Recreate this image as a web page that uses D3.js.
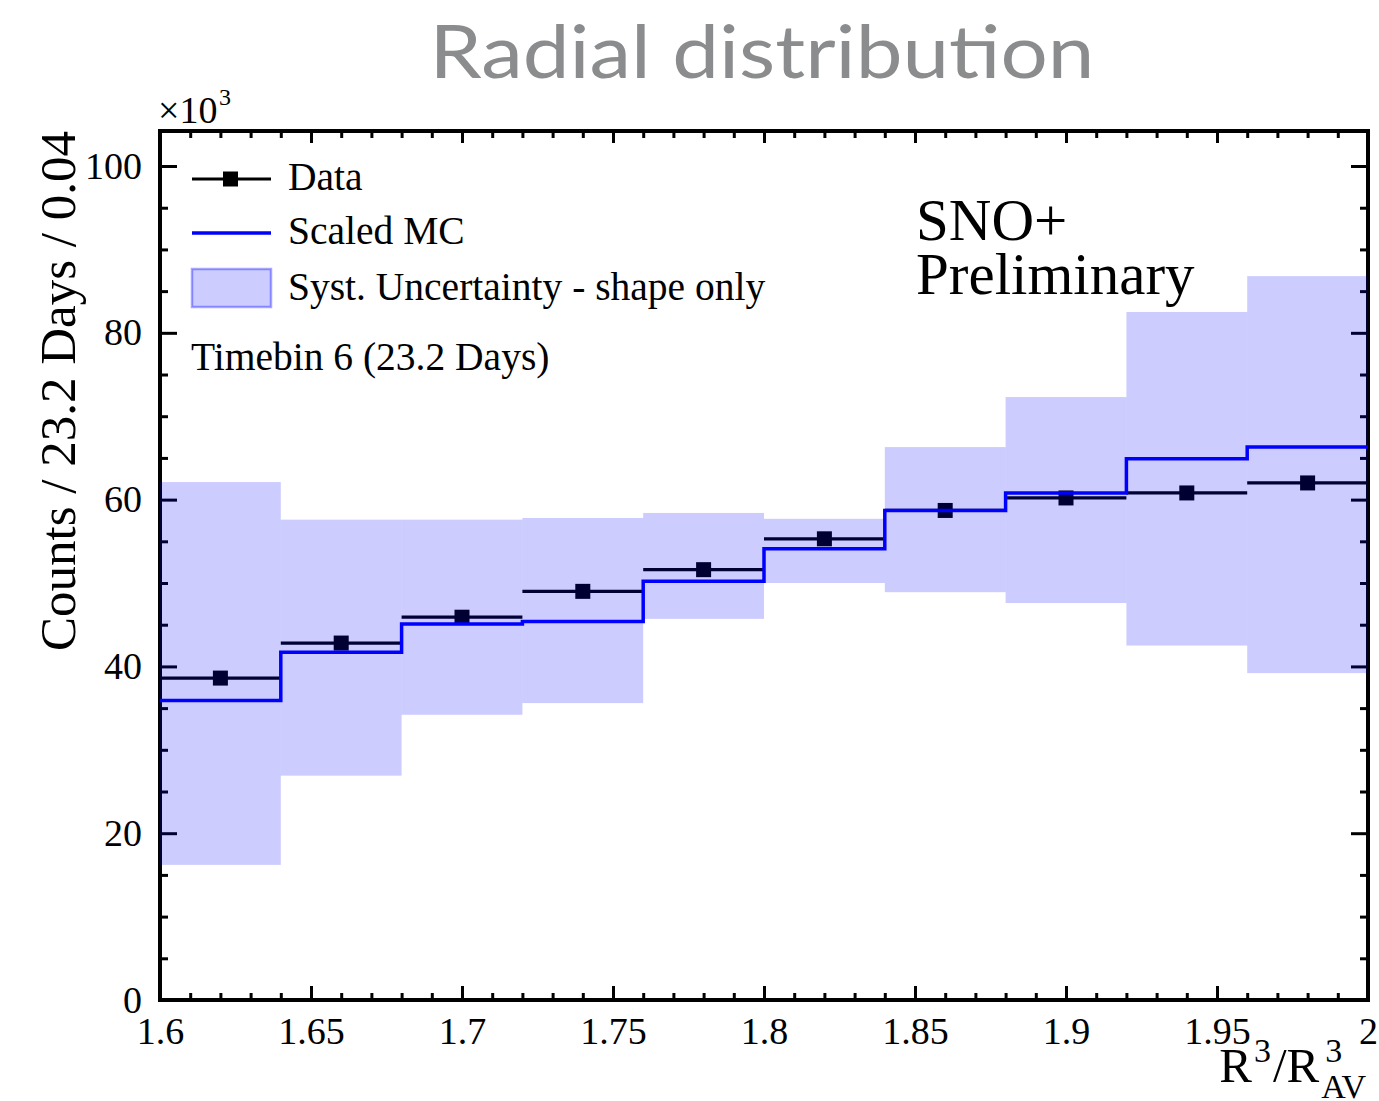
<!DOCTYPE html>
<html>
<head>
<meta charset="utf-8">
<script src="https://cdn.jsdelivr.net/npm/d3@7"></script>
<style>
  html, body { margin: 0; padding: 0; background: #fff; }
  svg { display: block; }
</style>
</head>
<body>
<svg id="chart" width="1379" height="1101"></svg>
<script>
// ---------------- data ----------------
const binEdges   = [1.60, 1.64, 1.68, 1.72, 1.76, 1.80, 1.84, 1.88, 1.92, 1.96, 2.00];
const dataCounts = [38.6, 42.8, 45.9, 49.0, 51.6, 55.3, 58.7, 60.2, 60.8, 62.0];
const mcCounts   = [35.9, 41.7, 45.1, 45.4, 50.2, 54.1, 58.7, 60.8, 64.9, 66.3];
const systHigh   = [62.1, 57.6, 57.6, 57.8, 58.4, 57.7, 66.3, 72.3, 82.5, 86.8];
const systLow    = [16.2, 26.9, 34.2, 35.6, 45.7, 50.0, 48.9, 47.6, 42.5, 39.2];
const xMajorTicks = [1.6, 1.65, 1.7, 1.75, 1.8, 1.85, 1.9, 1.95, 2.0];
const xTickLabels = ["1.6", "1.65", "1.7", "1.75", "1.8", "1.85", "1.9", "1.95", "2"];
const yMajorTicks = [0, 20, 40, 60, 80, 100];
const yTickLabels = ["0", "20", "40", "60", "80", "100"];
const legendLabels = ["Data", "Scaled MC", "Syst. Uncertainty - shape only"];
const titleText = "Radial distribution";
const yTitle = "Counts / 23.2 Days / 0.04";
const infoText = "Timebin 6 (23.2 Days)";
const experimentText = ["SNO+", "Preliminary"];

// ---------------- layout ----------------
const svg = d3.select("#chart");
const L = 160, R = 1368, T = 131, B = 1000;
const serif = "'Liberation Serif', 'Times New Roman', serif";

const x = d3.scaleLinear().domain([1.6, 2.0]).range([L, R]);
const y = d3.scaleLinear().domain([0, 104.2]).range([B, T]);

const bins = dataCounts.map((v, i) => ({
  x0: binEdges[i], x1: binEdges[i + 1],
  data: v, mc: mcCounts[i], hi: systHigh[i], lo: systLow[i]
}));

// minor tick values (derived from the axis ranges)
const xMinor = d3.range(0, 41).map(i => 1.6 + i * 0.01).filter(v => !xMajorTicks.some(m => Math.abs(m - v) < 1e-6));
const yMinor = d3.range(0, 21).map(i => i * 5).filter(v => v % 20 !== 0);

function styleAxis(g) {
  g.select(".domain").remove();
  g.selectAll(".tick line").attr("stroke", "#000").attr("stroke-width", 3);
  g.selectAll(".tick text").attr("fill", "#000").style("font-family", serif).style("font-size", "38px");
}

// bottom axis
svg.append("g").attr("transform", `translate(0,${B})`)
  .call(d3.axisBottom(x).tickValues(xMajorTicks).tickSize(-14).tickPadding(17)
        .tickFormat((d, i) => xTickLabels[i]))
  .call(styleAxis);
svg.append("g").attr("transform", `translate(0,${B})`)
  .call(d3.axisBottom(x).tickValues(xMinor).tickSize(-7).tickFormat(""))
  .call(styleAxis);
// top axis (mirror)
svg.append("g").attr("transform", `translate(0,${T})`)
  .call(d3.axisTop(x).tickValues(xMajorTicks).tickSize(-12).tickFormat(""))
  .call(styleAxis);
svg.append("g").attr("transform", `translate(0,${T})`)
  .call(d3.axisTop(x).tickValues(xMinor).tickSize(-7).tickFormat(""))
  .call(styleAxis);
// left axis
svg.append("g").attr("transform", `translate(${L},0)`)
  .call(d3.axisLeft(y).tickValues(yMajorTicks).tickSize(-17).tickPadding(18)
        .tickFormat((d, i) => yTickLabels[i]))
  .call(styleAxis);
svg.append("g").attr("transform", `translate(${L},0)`)
  .call(d3.axisLeft(y).tickValues(yMinor).tickSize(-8).tickFormat(""))
  .call(styleAxis);
// right axis (mirror)
svg.append("g").attr("transform", `translate(${R},0)`)
  .call(d3.axisRight(y).tickValues(yMajorTicks).tickSize(-17).tickFormat(""))
  .call(styleAxis);
svg.append("g").attr("transform", `translate(${R},0)`)
  .call(d3.axisRight(y).tickValues(yMinor).tickSize(-8).tickFormat(""))
  .call(styleAxis);

// ---------------- data points (drawn under the band) ----------------
const dataG = svg.append("g");
dataG.selectAll("line.derr").data(bins).join("line")
  .attr("x1", d => x(d.x0)).attr("x2", d => x(d.x1))
  .attr("y1", d => y(d.data)).attr("y2", d => y(d.data))
  .attr("stroke", "#000").attr("stroke-width", 3.2);
dataG.selectAll("rect.mk").data(bins).join("rect")
  .attr("x", d => x((d.x0 + d.x1) / 2) - 7.5)
  .attr("y", d => y(d.data) - 7.5)
  .attr("width", 15).attr("height", 15)
  .attr("fill", "#000");

// ---------------- frame ----------------
svg.append("rect").attr("x", L).attr("y", T).attr("width", R - L).attr("height", B - T)
  .attr("fill", "none").attr("stroke", "#000").attr("stroke-width", 4);

// ---------------- systematic band (alpha, on top) ----------------
svg.append("g").selectAll("rect").data(bins).join("rect")
  .attr("x", d => x(d.x0)).attr("width", d => x(d.x1) - x(d.x0))
  .attr("y", d => y(d.hi)).attr("height", d => y(d.lo) - y(d.hi))
  .attr("fill", "rgb(0,0,255)").attr("fill-opacity", 0.2);

// ---------------- MC histogram ----------------
const mcPts = bins.map(d => [d.x0, d.mc]).concat([[binEdges[binEdges.length - 1], mcCounts[mcCounts.length - 1]]]);
svg.append("path")
  .attr("d", d3.line().x(d => x(d[0])).y(d => y(d[1])).curve(d3.curveStepAfter)(mcPts))
  .attr("fill", "none").attr("stroke", "#0000ff").attr("stroke-width", 3.5);

// ---------------- legend ----------------
const lg = svg.append("g");
lg.append("line").attr("x1", 192).attr("x2", 271).attr("y1", 179).attr("y2", 179)
  .attr("stroke", "#000").attr("stroke-width", 3.2);
lg.append("rect").attr("x", 223).attr("y", 171.5).attr("width", 15).attr("height", 15).attr("fill", "#000");
lg.append("line").attr("x1", 192).attr("x2", 271).attr("y1", 233).attr("y2", 233)
  .attr("stroke", "#0000ff").attr("stroke-width", 3.5);
lg.append("rect").attr("x", 192).attr("y", 269).attr("width", 79).attr("height", 38)
  .attr("fill", "rgb(0,0,255)").attr("fill-opacity", 0.2)
  .attr("stroke", "rgb(0,0,255)").attr("stroke-opacity", 0.35).attr("stroke-width", 2.5);
const legY = [190, 244, 300];
legendLabels.forEach((t, i) => {
  lg.append("text").attr("x", 288).attr("y", legY[i]).text(t)
    .style("font-family", serif).style("font-size", "39.5px").attr("fill", "#000");
});
svg.append("text").attr("x", 191).attr("y", 370).text(infoText)
  .style("font-family", serif).style("font-size", "39.5px").attr("fill", "#000");

// SNO+ Preliminary
experimentText.forEach((t, i) => {
  svg.append("text").attr("x", 916).attr("y", 240 + i * 54).text(t)
    .style("font-family", serif).style("font-size", "59px").attr("fill", "#000");
});

// ---------------- title ----------------
svg.append("text").attr("x", 762).attr("y", 78).attr("text-anchor", "middle")
  .attr("textLength", 665).attr("lengthAdjust", "spacingAndGlyphs")
  .text(titleText)
  .style("font-family", "Lato, 'Open Sans', sans-serif").style("font-size", "74px")
  .attr("fill", "#8a8c8d");

// ---------------- axis titles ----------------
svg.append("text").attr("transform", `translate(75,${T}) rotate(-90)`)
  .attr("text-anchor", "end").text(yTitle)
  .style("font-family", serif).style("font-size", "51px").attr("fill", "#000");

// x10^3
const ex = svg.append("g");
ex.append("text").attr("x", 158).attr("y", 123).text("\u00d710")
  .style("font-family", serif).style("font-size", "38px");
ex.append("text").attr("x", 219).attr("y", 105).text("3")
  .style("font-family", serif).style("font-size", "24px");

// R^3/R^3_AV
const xt = svg.append("g");
const big = "49px", small = "34px";
const r1 = xt.append("text").attr("x", 0).attr("y", 0).text("R").style("font-family", serif).style("font-size", big);
const w1 = r1.node().getComputedTextLength();
const s1 = xt.append("text").attr("x", w1 + 2).attr("y", -20).text("3").style("font-family", serif).style("font-size", small);
const w2 = s1.node().getComputedTextLength();
const r2 = xt.append("text").attr("x", w1 + w2 + 4).attr("y", 0).text("/R").style("font-family", serif).style("font-size", big);
const w3 = r2.node().getComputedTextLength();
const baseX = w1 + w2 + w3 + 4;
xt.append("text").attr("x", baseX + 6).attr("y", -20).text("3").style("font-family", serif).style("font-size", small);
const sub = xt.append("text").attr("x", baseX + 2).attr("y", 16).text("AV").style("font-family", serif).style("font-size", small);
const total = baseX + 2 + sub.node().getComputedTextLength();
xt.attr("transform", `translate(${1366 - total},1082)`);
</script>
</body>
</html>
